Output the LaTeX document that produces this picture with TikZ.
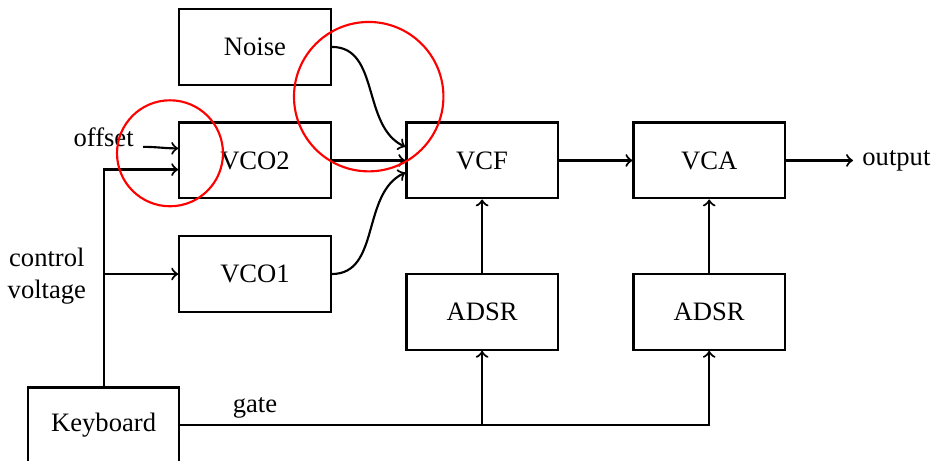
\documentclass[tikz,border=0pt]{standalone}
\usepackage{fontspec}
\setmainfont{Liberation Serif}
\begin{document}
\begin{tikzpicture}[
  font=\fontsize{10}{12}\selectfont,
  blk/.style={draw, line width=0.85pt, minimum width=2cm, minimum height=1cm, inner sep=0pt},
  conn/.style={->, line width=0.8pt},
  markcirc/.style={circle, draw=red, line width=0.8pt, inner sep=0pt}
]
\useasboundingbox (-3.369,-3.970) rectangle (9.102,2.120);
\node[blk] (noise) at (0,1.5) {Noise};
\node[blk] (vco2) at (0,0) {VCO2};
\node[blk] (vco1) at (0,-1.5) {VCO1};
\node[blk] (vcf) at (3,0) {VCF};
\node[blk] (vca) at (6,0) {VCA};
\node[blk] (adsr1) at (3,-2) {ADSR};
\node[blk] (adsr2) at (6,-2) {ADSR};
\node[blk] (kbd) at (-2,-3.5) {Keyboard};
\node[anchor=west] (output) at (7.9,0) {output};
\node[anchor=base] (offset) at (-2.0,0.18) {offset};
\node[align=center] (cv) at (-2.75,-1.53) {control\\voltage};
\node (gate) at (0,-3.27) {gate};

\draw[conn] (noise.east) to[out=0,in=155] ([yshift=0.18cm]vcf.west);
\draw[conn] (vco2.east) -- (vcf.west);
\draw[conn] (vco1.east) to[out=0,in=205] ([yshift=-0.16cm]vcf.west);
\draw[conn] (vcf) -- (vca);
\draw[conn] (vca) -- (output);
\draw[conn] (offset.base east) to[out=0,in=180] ([yshift=0.16cm]vco2.west);
\draw[conn] (kbd.north) |- ([yshift=-0.12cm]vco2.west);
\draw[conn] (kbd.north |- vco1.west) -- (vco1.west);
\draw[conn] (kbd.east) -| (adsr2.south);
\draw[conn] (kbd.east -| adsr1.south) -- (adsr1.south);
\draw[conn] (adsr1) -- (vcf);
\draw[conn] (adsr2) -- (vca);

\node[markcirc, minimum size=1.4cm] (circA) at (-1.123,0.095) {};
\node[markcirc, minimum size=1.974cm] (circB) at (1.502,0.843) {};
\end{tikzpicture}
\end{document}
